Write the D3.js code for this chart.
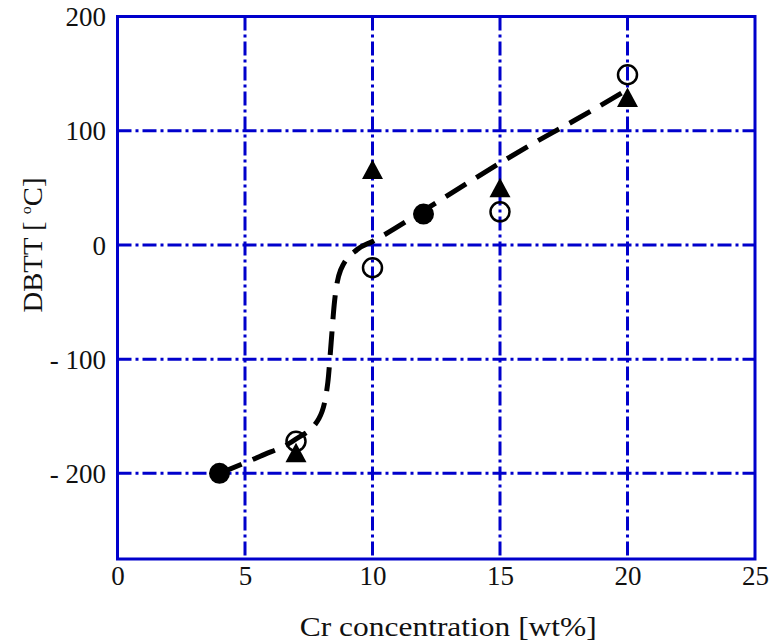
<!DOCTYPE html>
<html>
<head>
<meta charset="utf-8">
<script src="https://cdn.jsdelivr.net/npm/d3@7/dist/d3.min.js"></script>
<style>
  html, body { margin: 0; padding: 0; background: #fff; }
  svg { display: block; }
  text { font-family: "Liberation Serif", "Times New Roman", serif; fill: #111; }
</style>
</head>
<body>
<script>
// ---- data ----
const xTicks = [0, 5, 10, 15, 20, 25];
const xTickLabels = ["0", "5", "10", "15", "20", "25"];
const yTicks = [200, 100, 0, -100, -200];
const yTickLabels = ["200", "100", "0", "- 100", "- 200"];

const filledCircleX = [4, 12];
const filledCircleY = [-200, 27];
const filledTriangleX = [7, 10, 15, 20];
const filledTriangleY = [-182, 66, 50, 129];
const openCircleX = [7, 10, 15, 20];
const openCircleY = [-172, -20, 29, 149];

// dashed trend curve
const curveX = [4, 5.6, 7, 7.9, 8.25, 8.38, 8.5, 8.75, 9.4, 10, 12, 14, 16, 18, 20];
const curveY = [-200, -185, -170, -152, -120, -85, -52, -22, -4, 3, 30, 58, 85, 110, 136];

// ---- chart ----
const W = 773, H = 642;
const svg = d3.select("body").append("svg").attr("width", W).attr("height", H);
svg.append("rect").attr("width", W).attr("height", H).attr("fill", "#fff");

const x = d3.scaleLinear().domain([0, 25]).range([117.5, 755]);
const y = d3.scaleLinear().domain([-275, 200]).range([559, 16.5]);
const blue = "#0000CC";

// grid lines
const g = svg.append("g");
g.selectAll("line.vg").data(xTicks.filter(d => d > 0 && d < 25)).join("line")
  .attr("x1", d => x(d)).attr("x2", d => x(d))
  .attr("y1", y(200)).attr("y2", y(-275))
  .attr("stroke", blue).attr("stroke-width", 3)
  .attr("stroke-dasharray", "14,4,3,4");
g.selectAll("line.hg").data(yTicks.filter(d => d < 200)).join("line")
  .attr("x1", x(0)).attr("x2", x(25))
  .attr("y1", d => y(d)).attr("y2", d => y(d))
  .attr("stroke", blue).attr("stroke-width", 3)
  .attr("stroke-dasharray", "14,4,3,4");

// frame
svg.append("rect")
  .attr("x", x(0)).attr("y", y(200))
  .attr("width", x(25) - x(0)).attr("height", y(-275) - y(200))
  .attr("fill", "none").attr("stroke", blue).attr("stroke-width", 3);

// axes (labels only)
const xAxis = d3.axisBottom(x).tickValues(xTicks)
  .tickFormat((d, i) => xTickLabels[i]).tickSize(0).tickPadding(0);
const xa = svg.append("g").attr("transform", `translate(0, ${y(-275)})`).call(xAxis);
xa.select(".domain").remove();
xa.selectAll("text").attr("font-size", 27).attr("dy", null).attr("y", 26)
  .style("font-family", "Liberation Serif").style("fill", "#111");

const yAxis = d3.axisLeft(y).tickValues(yTicks)
  .tickFormat((d, i) => yTickLabels[i]).tickSize(0).tickPadding(0);
const ya = svg.append("g").attr("transform", `translate(106, 0)`).call(yAxis);
ya.select(".domain").remove();
ya.selectAll("text").attr("font-size", 27).attr("x", 0).attr("dy", "0.34em")
  .style("font-family", "Liberation Serif").style("fill", "#111")
  .attr("xml:space", "preserve");

// axis titles
svg.append("text")
  .attr("x", (x(0) + x(25)) / 2 + 12).attr("y", 636)
  .attr("text-anchor", "middle").attr("font-size", 27)
  .attr("textLength", 297).attr("lengthAdjust", "spacingAndGlyphs")
  .text("Cr concentration [wt%]");

const yt = svg.append("text")
  .attr("transform", `translate(42, 245) rotate(-90)`)
  .attr("text-anchor", "middle").attr("font-size", 27)
  .attr("textLength", 135).attr("lengthAdjust", "spacingAndGlyphs");
yt.append("tspan").text("DBTT [ ");
yt.append("tspan").attr("font-size", 15).attr("dy", -11).text("o");
yt.append("tspan").attr("dy", 11).text("C]");

// dashed curve
const curvePts = curveX.map((d, i) => [d, curveY[i]]);
const line = d3.line().x(d => x(d[0])).y(d => y(d[1])).curve(d3.curveMonotoneX);
svg.append("path").datum(curvePts).attr("d", line)
  .attr("fill", "none").attr("stroke", "#000").attr("stroke-width", 5)
  .attr("stroke-dasharray", "24,12");

// markers
const fc = filledCircleX.map((d, i) => [d, filledCircleY[i]]);
svg.selectAll("circle.fc").data(fc).join("circle")
  .attr("cx", d => x(d[0])).attr("cy", d => y(d[1])).attr("r", 10.5)
  .attr("fill", "#000");

const ft = filledTriangleX.map((d, i) => [d, filledTriangleY[i]]);
svg.selectAll("path.ft").data(ft).join("path")
  .attr("d", d => {
    const cx = x(d[0]), cy = y(d[1]);
    return `M${cx},${cy - 10}L${cx + 10.5},${cy + 9.5}L${cx - 10.5},${cy + 9.5}Z`;
  })
  .attr("fill", "#000");

const oc = openCircleX.map((d, i) => [d, openCircleY[i]]);
svg.selectAll("circle.oc").data(oc).join("circle")
  .attr("cx", d => x(d[0])).attr("cy", d => y(d[1])).attr("r", 9.5)
  .attr("fill", "none").attr("stroke", "#000").attr("stroke-width", 2.5);
</script>
</body>
</html>
